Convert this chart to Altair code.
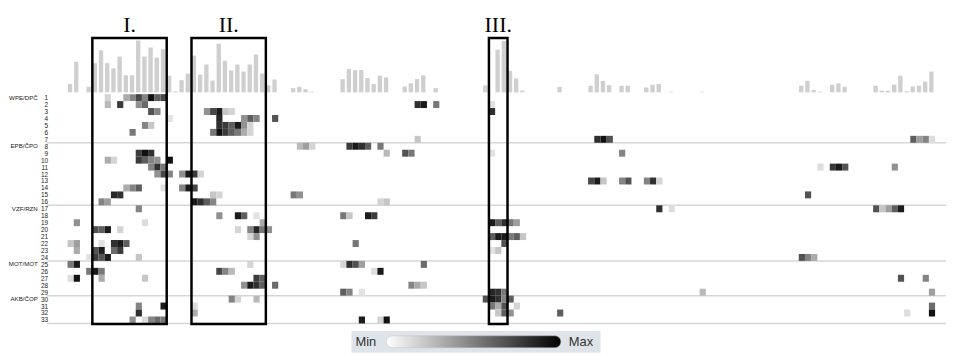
import altair as alt
import pandas as pd

N_COLS = 140
N_ROWS = 33

# ---- top bar strip (activity per column) ----
bar_col = [0, 1, 3, 4, 5, 6, 7, 8, 9, 10, 11, 12, 13, 14, 15, 16, 17, 18, 19,
           20, 21, 22, 23, 24, 25, 26, 27, 28, 29, 30, 31, 32, 33, 36, 37, 38, 39,
           44, 45, 46, 47, 48, 49, 50, 51, 54, 55, 56, 57, 59, 67, 69, 70, 71, 72, 73,
           79, 84, 85, 86, 87, 89, 90, 93, 94, 95, 97, 102, 118, 119, 120, 121,
           123, 124, 125, 130, 131, 132, 133, 134, 135, 136, 137, 138, 139]
bar_val = [2.4, 8.8, 1.6, 8.4, 12.1, 8.4, 6.9, 10.3, 4.9, 4.9, 14.9, 10.3, 12.9, 10.0, 12.4, 4.8, 0.3, 3.5, 5.4,
           10.6, 5.1, 8.0, 3.4, 14.0, 9.1, 6.3, 8.0, 6.0, 8.0, 10.9, 5.4, 2.0, 3.7, 1.2, 1.6, 0.9, 0.2,
           3.8, 6.7, 6.4, 6.4, 4.1, 2.4, 4.8, 4.3, 1.7, 2.6, 3.8, 4.9, 1.2, 2.0, 12.3, 14.8, 6.2, 4.0, 0.5,
           1.6, 1.9, 5.2, 3.3, 2.1, 1.9, 1.9, 1.4, 2.2, 2.4, 0.2, 0.2, 1.9, 3.3, 0.7, 0.2,
           2.2, 2.6, 1.6, 1.9, 0.5, 0.5, 2.2, 4.8, 0.3, 1.7, 1.9, 3.1, 6.0]

# ---- heatmap cells: row, column, intensity (0 = min, 1 = max) ----
cell_row, cell_col, cell_val = [], [], []
def add(row, cols, vals):
    cell_row.extend([row] * len(cols)); cell_col.extend(cols); cell_val.extend(vals)

add(1,  [6, 9, 10, 11, 12, 13, 14, 15], [.15, .3, .45, .7, .45, .95, .6, .7])
add(2,  [6, 8, 11, 12, 56, 57, 59, 68], [.25, .75, .4, .55, .8, .9, .5, .1])
add(3,  [13, 14, 22, 23, 24, 25, 26, 68], [.65, .45, .4, .7, .9, .2, .15, .8])
add(4,  [16, 24, 28, 29, 30, 33], [.1, .85, .4, .6, .45, .65])
add(5,  [12, 13, 24, 25, 26, 27, 28, 29], [.45, .2, .8, .75, .6, .9, .4, .15])
add(6,  [10, 23, 24, 25, 26, 27, 28, 29], [.5, .5, .95, .75, .6, .5, .3, .15])
add(7,  [56, 85, 86, 87, 136, 137, 138, 139], [.2, .8, .95, .65, .6, .35, .45, .12])
add(8,  [37, 38, 39, 45, 46, 47, 48, 50], [.25, .35, .15, .75, .9, .8, .6, .5])
add(9,  [11, 12, 13, 51, 54, 55, 68, 89], [.75, .95, .8, .25, .65, .5, .1, .45])
add(10, [6, 7, 11, 12, 13, 14, 16], [.3, .15, .75, .6, .45, .4, .95])
add(11, [13, 14, 15, 121, 123, 124, 125, 133], [.45, .8, .5, .12, .75, .9, .65, .4])
add(12, [14, 15, 16, 18, 19, 20, 21], [.4, .7, .45, .4, .9, .75, .15])
add(13, [84, 85, 86, 89, 90, 93, 94, 95], [.7, .9, .2, .45, .65, .45, .8, .15])
add(14, [9, 10, 11, 15, 18, 19, 20], [.3, .45, .6, .1, .45, .9, .7])
add(15, [7, 8, 23, 24, 36, 37, 119], [.85, .8, .2, .15, .5, .4, .65])
add(16, [5, 6, 20, 21, 22, 23, 50, 51], [.45, .35, .9, .8, .6, .45, .15, .2])
add(17, [11, 95, 97, 130, 131, 132, 133, 134], [.45, .8, .12, .65, .2, .35, .6, .9])
add(18, [24, 27, 28, 30, 44, 45, 48, 49], [.4, .9, .6, .1, .5, .2, .9, .75])
add(19, [1, 12, 31, 68, 69, 70, 71, 72], [.4, .12, .3, .9, .6, .8, .5, .35])
add(20, [4, 5, 6, 8, 27, 29, 30, 31, 32], [.65, .6, .9, .15, .15, .45, .85, .5, .4])
add(21, [29, 30, 68, 69, 70, 71, 72, 73], [.15, .4, .6, .9, .9, .5, .6, .2])
add(22, [0, 1, 5, 7, 8, 9, 46, 70], [.2, .35, .1, .8, .9, .6, .5, .65])
add(23, [1, 4, 5, 7, 8, 68, 69], [.3, .65, .9, .55, .75, .1, .2])
add(24, [3, 4, 5, 6, 11, 118, 119, 120], [.1, .75, .65, .9, .2, .65, .45, .3])
add(25, [0, 1, 29, 44, 45, 46, 47, 57], [.5, .9, .15, .15, .8, .65, .35, .55])
add(26, [3, 4, 5, 24, 25, 26, 49, 50], [.5, .9, .5, .7, .45, .25, .12, .9])
add(27, [0, 1, 5, 12, 30, 31, 134, 138], [.12, .95, .3, .2, .75, .6, .65, .45])
add(28, [28, 29, 30, 31, 33, 55, 56, 57], [.4, .9, .8, .6, .55, .45, .3, .2])
add(29, [44, 45, 47, 68, 69, 70, 102, 139], [.6, .45, .1, .85, .8, .5, .25, .35])
add(30, [26, 27, 30, 67, 68, 69, 70, 71], [.45, .15, .25, .65, .9, .8, .45, .6])
add(31, [11, 15, 20, 68, 69, 70, 72, 139], [.45, .9, .12, .5, .3, .65, .15, .55])
add(32, [11, 20, 69, 70, 71, 79, 135, 139], [.8, .3, .2, .6, .4, .6, .12, .95])
add(33, [10, 12, 13, 14, 15, 47, 50, 51], [.4, .12, .45, .55, .5, .9, .15, .95])

group_names = ["WPE/DPČ", "EPB/ČPO", "VZF/RZN", "MOT/MOT", "AKB/ČOP"]
group_first_row = [1, 8, 17, 25, 30]
group_last_row = [7, 16, 24, 29, 33]

box_labels = ["I.", "II.", "III."]
box_start = [4, 20, 68]
box_end = [16, 32, 71]

# ---------------- chart ----------------
W, H = 874, 295
xs = alt.Scale(domain=[0, N_COLS], nice=False, zero=False)
row_scale = alt.Scale(domain=[0.5, N_ROWS + 0.5], range=[63.5, 294.5], nice=False, zero=False)
bar_scale = alt.Scale(domain=[0, 15], range=[61.7, 61.7 - 15 * 3.5], nice=False, zero=False)
FONT = "Liberation Sans"

bars_df = pd.DataFrame({"col": bar_col, "val": bar_val})
bars = alt.Chart(bars_df).transform_calculate(
    x1="datum.col + 0.05", x2="datum.col + 0.75"
).mark_rect(color="#cfcfcf").encode(
    x=alt.X("x1:Q", scale=xs, axis=None), x2="x2:Q",
    y=alt.Y("val:Q", scale=bar_scale, axis=None), y2=alt.datum(0),
)

sep_df = pd.DataFrame({"row": group_last_row})
seps = alt.Chart(sep_df).transform_calculate(yy="datum.row + 0.5").mark_rule(
    color="#d6d6d6", strokeWidth=1.5
).encode(
    y=alt.Y("yy:Q", scale=row_scale, axis=None),
    x=alt.value(-21), x2=alt.value(W + 11),
)

cells_df = pd.DataFrame({"row": cell_row, "col": cell_col, "val": cell_val})
cells = alt.Chart(cells_df).transform_calculate(
    x1="datum.col", x2="datum.col + 1", y1="datum.row - 0.5", y2="datum.row + 0.5"
).mark_rect().encode(
    x=alt.X("x1:Q", scale=xs, axis=None), x2="x2:Q",
    y=alt.Y("y1:Q", scale=row_scale,
            axis=alt.Axis(values=list(range(1, N_ROWS + 1)), format="d", title=None,
                          ticks=False, domain=False, grid=False, labelPadding=20,
                          labelFont=FONT, labelFontSize=6.5, labelColor="#222",
                          labelOverlap=False)),
    y2="y2:Q",
    color=alt.Color("val:Q", scale=alt.Scale(domain=[0, 1], range=["#ffffff", "#000000"]), legend=None),
)

grp_df = pd.DataFrame({"name": group_names, "row": group_first_row})
grp = alt.Chart(grp_df).mark_text(
    align="right", baseline="middle", font=FONT, fontSize=6.2, color="#222"
).encode(
    y=alt.Y("row:Q", scale=row_scale, axis=None), x=alt.value(-30), text="name:N"
)

box_df = pd.DataFrame({"label": box_labels, "start": box_start, "end": box_end})
boxes = alt.Chart(box_df).mark_rect(fill=None, stroke="black", strokeWidth=2.5).encode(
    x=alt.X("start:Q", scale=xs, axis=None), x2="end:Q",
    y=alt.value(7), y2=alt.value(295),
)
box_text = alt.Chart(box_df).transform_calculate(mid="(datum.start + datum.end) / 2").mark_text(
    font="Liberation Serif", fontSize=22, baseline="alphabetic", align="center", color="black"
).encode(
    x=alt.X("mid:Q", scale=xs, axis=None), y=alt.value(1), text="label:N"
)

# legend (Min - gradient - Max)
leg_df = pd.DataFrame({"a": [0]})
leg_bg = alt.Chart(leg_df).mark_rect(color="#dfe4eb").encode(
    x=alt.value(286), x2=alt.value(537), y=alt.value(302), y2=alt.value(324)
)
leg_grad = alt.Chart(leg_df).mark_rect(
    cornerRadius=6, stroke="#bbbbbb", strokeWidth=0.5,
    fill=alt.Gradient(gradient="linear", x1=0, x2=1, y1=0, y2=0,
                      stops=[alt.GradientStop(color="#ffffff", offset=0),
                             alt.GradientStop(color="#000000", offset=1)])
).encode(x=alt.value(321), x2=alt.value(497), y=alt.value(307), y2=alt.value(319))
leg_min = alt.Chart(leg_df).mark_text(
    text="Min", align="left", baseline="middle", font=FONT, fontSize=13, color="#333"
).encode(x=alt.value(290), y=alt.value(313))
leg_max = alt.Chart(leg_df).mark_text(
    text="Max", align="left", baseline="middle", font=FONT, fontSize=13, color="#333"
).encode(x=alt.value(505), y=alt.value(313))

chart = alt.layer(
    seps, bars, cells, grp, boxes, box_text, leg_bg, leg_grad, leg_min, leg_max
).resolve_scale(y="independent").properties(
    width=W, height=H,
    autosize=alt.AutoSizeParams(type="none"),
    padding={"left": 60, "top": 22, "right": 12, "bottom": 28},
).configure_view(stroke=None)

chart.save("out.html", embed_options={"renderer": "svg", "actions": False})
